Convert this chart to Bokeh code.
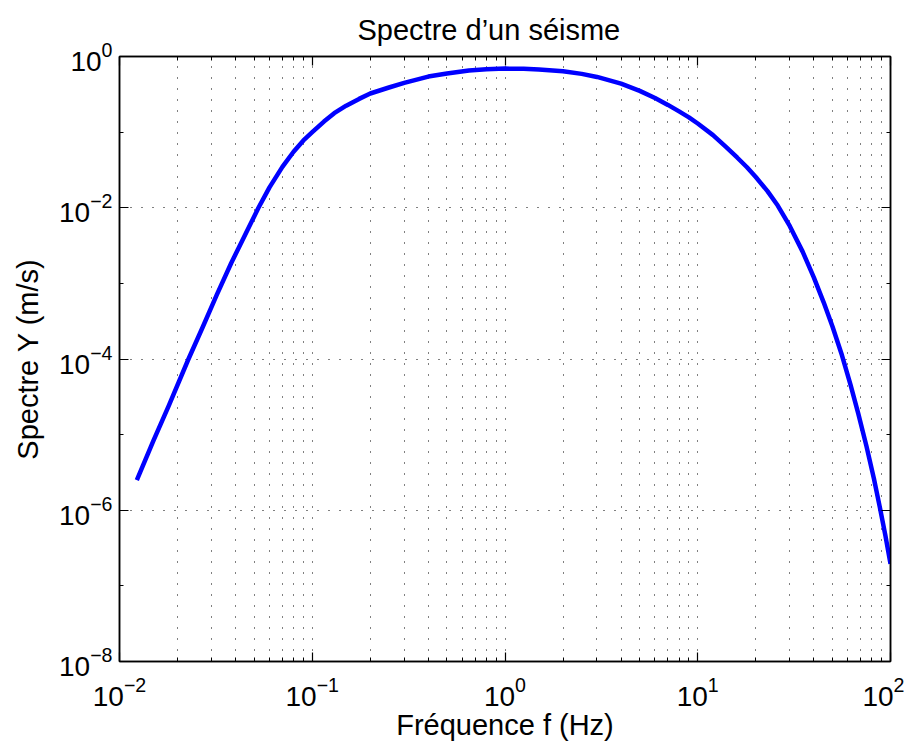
from bokeh.plotting import figure
from bokeh.models import LogAxis, FixedTicker, LogTickFormatter, ColumnDataSource, CustomJSTickFormatter
from bokeh.embed import file_html
from bokeh.resources import INLINE

# Data (frequency in Hz, spectrum in m/s)
freq = [0.0123, 0.015, 0.018, 0.0228, 0.027, 0.032, 0.038, 0.045, 0.0526, 0.06,
        0.07, 0.08, 0.09, 0.1, 0.115, 0.13, 0.15, 0.175, 0.2, 0.25,
        0.3, 0.4, 0.5, 0.65, 0.8, 1.0, 1.25, 1.5, 2.0, 2.5,
        3.0, 4.0, 5.0, 6.0, 7.0, 8.0, 9.0, 10.0, 12.0, 14.0,
        16.0, 18.0, 20.0, 23.0, 26.0, 30.0, 35.0, 40.0, 45.0, 50.0,
        56.0, 62.0, 68.0, 75.0, 82.0, 88.0, 94.0, 100.0]
spectre = [2.51e-6, 8.32e-6, 2.40e-5, 1.0e-4, 2.63e-4, 7.08e-4, 1.86e-3, 4.47e-3, 1.0e-2, 1.86e-2,
           3.47e-2, 5.50e-2, 7.76e-2, 0.100, 0.138, 0.178, 0.224, 0.275, 0.324, 0.389,
           0.447, 0.543, 0.596, 0.653, 0.679, 0.692, 0.687, 0.673, 0.637, 0.589,
           0.537, 0.437, 0.351, 0.282, 0.229, 0.188, 0.157, 0.130, 0.0912, 0.0638,
           0.0462, 0.0343, 0.0255, 0.0166, 0.0107, 5.75e-3, 2.63e-3, 1.20e-3, 5.62e-4, 2.69e-4,
           1.12e-4, 4.57e-5, 1.91e-5, 7.08e-6, 2.63e-6, 1.10e-6, 4.68e-7, 1.95e-7]

x_major = [1e-2, 1e-1, 1e0, 1e1, 1e2]
x_minor = [k * 10.0 ** d for d in (-2, -1, 0, 1) for k in range(2, 10)]
y_major = [1e-8, 1e-6, 1e-4, 1e-2, 1e0]
y_minor = [1e-7, 1e-5, 1e-3, 1e-1]

title_text = "Spectre d\u2019un séisme"
x_label = "Fréquence f (Hz)"
y_label = "Spectre Y (m/s)"

FONT = "Liberation Sans"
FS = "29px"
FS_TICK = "28px"

p = figure(width=904, height=745, x_axis_type="log", y_axis_type="log",
           x_range=(1e-2, 1e2), y_range=(1e-8, 1e0),
           output_backend="svg", toolbar_location=None,
           min_border_left=119, min_border_right=14,
           min_border_top=56, min_border_bottom=84,
           title=title_text)

p.title.text_font = FONT
p.title.text_font_size = FS
p.title.text_font_style = "normal"
p.title.text_color = "black"
p.title.align = "left"
p.title.offset = 238
p.title.standoff = 12
p.title.text_line_height = 0.7

xt = FixedTicker(ticks=x_major, minor_ticks=x_minor)
yt = FixedTicker(ticks=y_major, minor_ticks=y_minor)


def style_axis(ax, ticker, show_labels):
    ax.ticker = ticker
    ax.axis_line_color = "black"
    ax.axis_line_width = 1.5
    ax.major_tick_in = 9
    ax.major_tick_out = 0
    ax.minor_tick_in = 4
    ax.minor_tick_out = 0
    ax.major_tick_line_color = "black"
    ax.minor_tick_line_color = "black"
    ax.major_tick_line_width = 1.2
    ax.minor_tick_line_width = 1
    ax.major_label_text_font = FONT
    ax.major_label_text_color = "black"
    ax.axis_label_text_font = FONT
    ax.axis_label_text_font_size = FS
    ax.axis_label_text_font_style = "normal"
    ax.axis_label_text_color = "black"
    if show_labels:
        ax.formatter = LogTickFormatter()
        ax.major_label_text_font_size = FS_TICK
    else:
        ax.formatter = CustomJSTickFormatter(code="return ' '")
        ax.major_label_text_font_size = "2px"
        ax.major_label_standoff = 0


xa = p.xaxis[0]
ya = p.yaxis[0]
style_axis(xa, xt, True)
style_axis(ya, yt, True)
xa.axis_label = x_label
ya.axis_label = y_label
xa.major_label_standoff = 15
xa.axis_label_standoff = 0
ya.major_label_standoff = 7
ya.axis_label_standoff = 12

top_ax = LogAxis()
style_axis(top_ax, xt, False)
p.add_layout(top_ax, "above")
right_ax = LogAxis()
style_axis(right_ax, yt, False)
p.add_layout(right_ax, "right")

p.xgrid.ticker = xt
p.ygrid.ticker = yt
p.xgrid.grid_line_color = "black"
p.xgrid.grid_line_dash = "1 10"
p.xgrid.grid_line_width = 1
p.xgrid.minor_grid_line_color = "black"
p.xgrid.minor_grid_line_dash = "1 10"
p.xgrid.minor_grid_line_width = 1
p.ygrid.grid_line_color = "black"
p.ygrid.grid_line_dash = "1 10"
p.ygrid.grid_line_width = 1

p.outline_line_color = "black"
p.outline_line_width = 1.5
p.background_fill_color = "white"
p.border_fill_color = "white"

src = ColumnDataSource(data=dict(f=freq, y=spectre))
p.line("f", "y", source=src, line_color="#0000ff", line_width=4.5,
       line_join="round", line_cap="butt")

open("out.html", "w").write(file_html(p, INLINE))
